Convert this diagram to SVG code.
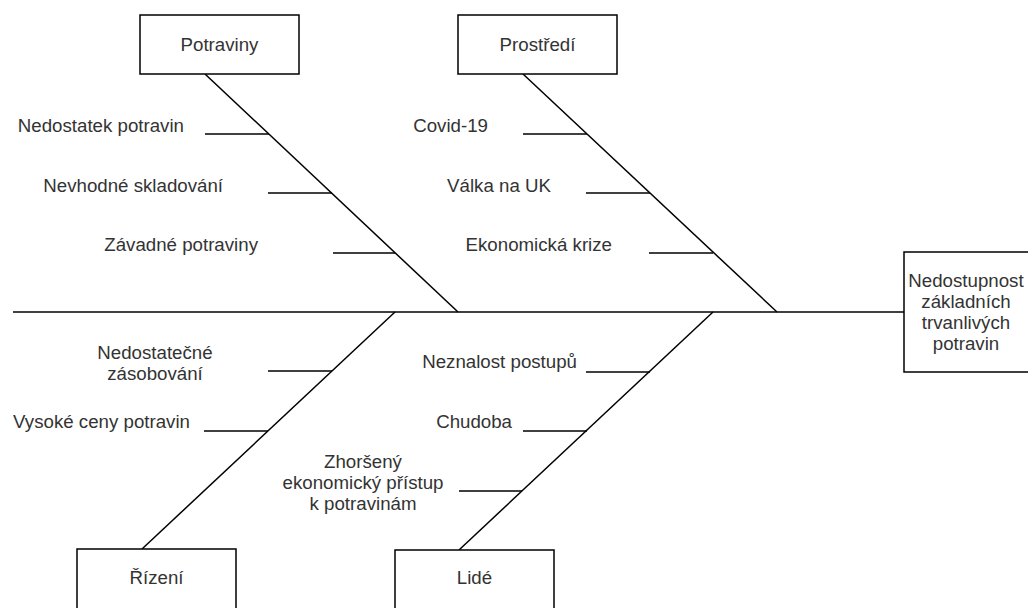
<svg xmlns="http://www.w3.org/2000/svg" width="1028" height="608" viewBox="0 0 1028 608">
  <style>
    .box { fill: #ffffff; stroke: #000000; stroke-width: 1.5; }
    .ln { stroke: #000000; stroke-width: 1.5; fill: none; }
    text { font-family: "Liberation Sans", Arial, sans-serif; font-size: 18.7px; fill: #333333; }
    .c { text-anchor: middle; }
    .r { text-anchor: end; }
  </style>
  <rect x="0" y="0" width="1028" height="608" fill="#ffffff"/>
  <g id="connectors">
    <line class="ln" x1="13" y1="312" x2="904" y2="312"/>
    <line class="ln" x1="205" y1="74" x2="458" y2="312"/>
    <line class="ln" x1="523" y1="74" x2="777" y2="312"/>
    <line class="ln" x1="395" y1="312" x2="142" y2="549"/>
    <line class="ln" x1="713" y1="312" x2="459" y2="550"/>
    <line class="ln" x1="205" y1="134" x2="269" y2="134"/>
    <line class="ln" x1="268" y1="193" x2="332" y2="193"/>
    <line class="ln" x1="333" y1="253" x2="395" y2="253"/>
    <line class="ln" x1="523" y1="134" x2="587" y2="134"/>
    <line class="ln" x1="586" y1="193" x2="650" y2="193"/>
    <line class="ln" x1="649" y1="253" x2="713" y2="253"/>
    <line class="ln" x1="268" y1="371" x2="332" y2="371"/>
    <line class="ln" x1="204" y1="431" x2="268" y2="431"/>
    <line class="ln" x1="586" y1="372" x2="650" y2="372"/>
    <line class="ln" x1="523" y1="431" x2="587" y2="431"/>
    <line class="ln" x1="459" y1="491" x2="522" y2="491"/>
  </g>
  <g id="effect">
    <rect class="box" x="904" y="252" width="126" height="120"/>
    <text class="c" x="966" y="287">Nedostupnost</text>
    <text class="c" x="966" y="308">základních</text>
    <text class="c" x="966" y="329">trvanlivých</text>
    <text class="c" x="966" y="350">potravin</text>
  </g>
  <g id="potraviny">
    <rect class="box" x="140" y="15" width="159" height="59"/>
    <text class="c" x="219.5" y="51">Potraviny</text>
  </g>
  <g id="prostredi">
    <rect class="box" x="458" y="15" width="159" height="59"/>
    <text class="c" x="537.5" y="51">Prostředí</text>
  </g>
  <g id="rizeni">
    <rect class="box" x="77" y="549" width="159" height="62"/>
    <text class="c" x="156.5" y="584">Řízení</text>
  </g>
  <g id="lide">
    <rect class="box" x="395" y="550" width="159" height="62"/>
    <text class="c" x="474.5" y="584">Lidé</text>
  </g>
  <g id="cause-nedostatek">
    <text class="r" x="184" y="132">Nedostatek potravin</text>
  </g>
  <g id="cause-nevhodne">
    <text class="r" x="223" y="192">Nevhodné skladování</text>
  </g>
  <g id="cause-zavadne">
    <text class="r" x="258" y="251">Závadné potraviny</text>
  </g>
  <g id="cause-covid">
    <text class="r" x="488" y="132">Covid-19</text>
  </g>
  <g id="cause-valka">
    <text class="r" x="551" y="192">Válka na UK</text>
  </g>
  <g id="cause-krize">
    <text class="r" x="612" y="251">Ekonomická krize</text>
  </g>
  <g id="cause-zasobovani">
    <text class="c" x="155" y="359">Nedostatečné</text>
    <text class="c" x="155" y="380">zásobování</text>
  </g>
  <g id="cause-ceny">
    <text class="r" x="190" y="428">Vysoké ceny potravin</text>
  </g>
  <g id="cause-neznalost">
    <text class="r" x="577" y="368">Neznalost postupů</text>
  </g>
  <g id="cause-chudoba">
    <text class="r" x="512" y="428">Chudoba</text>
  </g>
  <g id="cause-pristup">
    <text class="c" x="363" y="468">Zhoršený</text>
    <text class="c" x="363" y="489">ekonomický přístup</text>
    <text class="c" x="363" y="510">k potravinám</text>
  </g>
</svg>
